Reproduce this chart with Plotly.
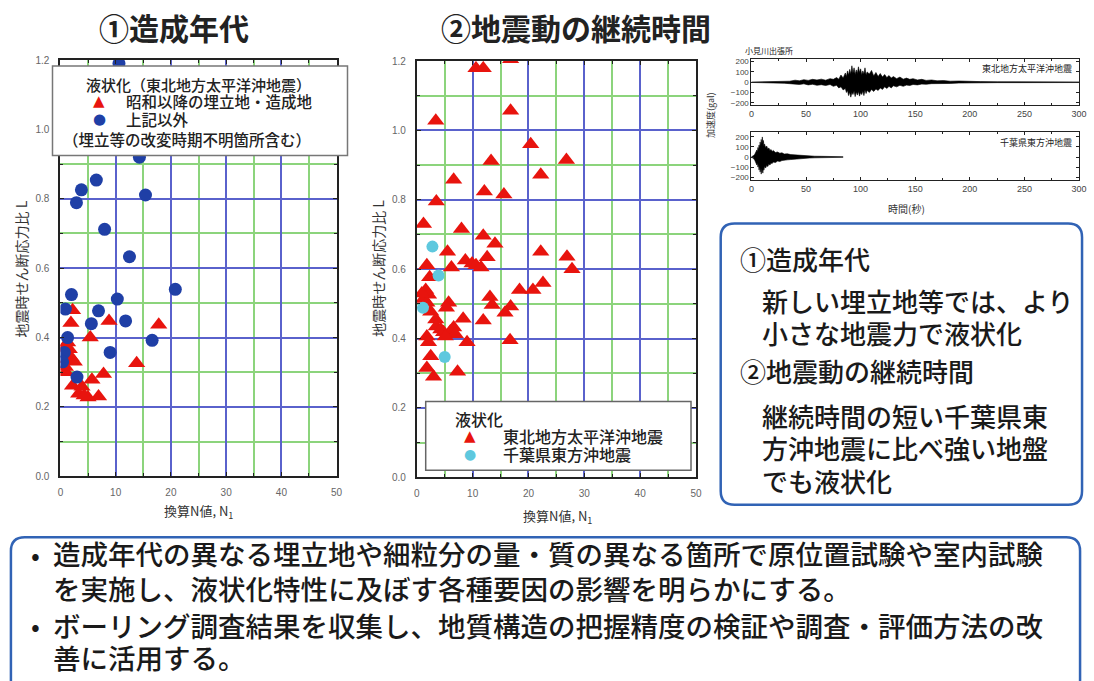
import plotly.graph_objects as go

W, H = 1094, 681
JP = "Noto Sans CJK JP"
NUM = "Liberation Sans"
SYM = "DejaVu Sans"


def px(x):
    return x / W


def py(y):
    return 1 - y / H


# ---- ① 造成年代 : 換算N値 N1 と 地震時せん断応力比 L ----
showa_n = [2.2, 1.9, 8.8, 17.8, 5.4, 1.3, 1.6, 1.9, 0.9, 1.3, 13.8, 7.8, 5.7, 2.2,
           3.9, 3.3, 5.0, 6.9, 4.3, 0.6, 1.0, 2.5]
showa_l = [0.479, 0.442, 0.448, 0.437, 0.400, 0.386, 0.366, 0.343, 0.315, 0.338, 0.326,
           0.295, 0.278, 0.261, 0.258, 0.238, 0.227, 0.230, 0.233, 0.370, 0.300, 0.330]

other_n = [14.3, 6.5, 3.8, 2.9, 15.4, 8.0, 12.5, 2.0, 0.9, 10.3, 6.9, 5.6, 11.8, 20.8,
           1.3, 0.7, 9.0, 16.6, 3.0, 0.4, 10.6]
other_l = [0.920, 0.854, 0.826, 0.789, 0.811, 0.712, 0.633, 0.524, 0.482, 0.511, 0.477,
           0.440, 0.448, 0.539, 0.400, 0.357, 0.357, 0.392, 0.286, 0.330, 1.190]

# ---- ② 地震動の継続時間 : 地震別 ----
tohoku_n = [10.6, 11.9, 16.8, 16.8, 3.4, 20.4, 13.3, 22.2, 6.6, 12.1, 15.6, 3.5, 26.8,
            1.2, 8.0, 11.9, 14.0, 5.5, 12.6, 22.2, 26.9, 27.8, 1.8, 6.2, 8.7, 9.9,
            10.6, 11.5, 2.3, 22.6, 18.4, 20.8, 1.6, 2.1, 13.1, 13.5, 1.2, 1.8, 2.5,
            5.7, 5.3, 16.8, 15.8, 8.3, 11.9, 3.4, 3.5, 4.3, 4.8, 6.0, 6.6, 6.9, 5.1,
            1.8, 2.1, 9.0, 16.7, 2.5, 1.8, 3.0, 7.3, 0.9]
tohoku_l = [1.179, 1.179, 1.205, 1.057, 1.028, 0.960, 0.912, 0.872, 0.858, 0.824, 0.815,
            0.795, 0.915, 0.730, 0.716, 0.696, 0.673, 0.650, 0.634, 0.650, 0.636, 0.600,
            0.611, 0.605, 0.625, 0.616, 0.611, 0.605, 0.577, 0.560, 0.540, 0.540, 0.540,
            0.526, 0.520, 0.497, 0.514, 0.503, 0.477, 0.503, 0.489, 0.492, 0.474, 0.457,
            0.452, 0.455, 0.435, 0.426, 0.418, 0.420, 0.432, 0.412, 0.406, 0.406, 0.389,
            0.389, 0.395, 0.349, 0.315, 0.290, 0.304, 0.530]

chiba_n = [2.8, 3.9, 1.1, 5.0]
chiba_l = [0.665, 0.582, 0.489, 0.347]

# ---- 加速度波形の包絡 (gal) : 小見川出張所 ----
t_tohoku = [0, 8, 16, 24, 30, 35, 40, 44, 48, 52, 56, 60, 64, 68, 72, 75, 78, 80, 82, 84,
            86, 87, 88, 89, 90, 91, 92, 93, 94, 95, 96, 97, 98, 99, 100, 101, 102, 103,
            104, 105, 106, 108, 110, 112, 114, 116, 118, 120, 122, 124, 126, 128, 130,
            133, 136, 139, 142, 145, 148, 152, 156, 160, 165, 170, 176, 182, 190, 198,
            210, 225, 245, 270, 300]
up_tohoku = [2, 3, 5, 8, 12, 10, 20, 14, 25, 18, 28, 22, 30, 20, 35, 28, 45, 30, 70, 40,
             90, 55, 110, 70, 125, 80, 160, 90, 140, 75, 120, 85, 150, 95, 130, 70, 110,
             80, 140, 70, 100, 80, 115, 60, 95, 55, 85, 50, 75, 45, 65, 40, 55, 35, 50,
             30, 40, 28, 35, 22, 28, 18, 22, 14, 16, 10, 12, 8, 6, 5, 4, 3, 3]
lo_tohoku = [-2, -3, -5, -8, -10, -14, -18, -22, -16, -26, -20, -30, -24, -32, -22, -40,
             -30, -55, -45, -75, -60, -100, -80, -130, -95, -145, -100, -120, -85, -140,
             -95, -125, -90, -135, -100, -120, -85, -130, -75, -110, -80, -100, -70, -90,
             -65, -80, -55, -70, -45, -60, -40, -55, -35, -45, -30, -40, -28, -32, -22,
             -26, -18, -20, -14, -15, -10, -12, -8, -6, -5, -4, -4, -3, -3]

t_chiba = [0, 1.5, 3, 4, 5, 5.5, 6, 6.5, 7, 7.5, 8, 8.5, 9, 9.5, 10, 10.5, 11, 11.5, 12,
           13, 14, 15, 16, 17, 18, 19, 20, 22, 24, 26, 28, 30, 33, 36, 40, 44, 48, 53,
           58, 64, 70, 77, 84]
up_chiba = [4, 10, 25, 45, 70, 50, 95, 70, 120, 90, 150, 110, 175, 130, 200, 140, 165,
            110, 130, 95, 110, 80, 90, 65, 75, 55, 65, 45, 50, 38, 42, 30, 32, 24, 20,
            16, 13, 10, 8, 7, 5, 4, 3]
lo_chiba = [-4, -10, -30, -50, -80, -60, -100, -75, -130, -95, -150, -110, -170, -120,
            -140, -160, -115, -130, -95, -110, -85, -95, -70, -80, -60, -65, -50, -55,
            -40, -45, -35, -35, -28, -25, -20, -16, -13, -10, -8, -7, -5, -4, -3]

RED = "#e8140e"
BLUE = "#1f3fa6"
CYAN = "#5ec8de"
GRID_MAJOR = "#5a62cc"
GRID_MINOR = "#8cd47c"

fig = go.Figure()

fig.add_trace(go.Scatter(x=showa_n, y=showa_l, mode="markers", name="昭和以降の埋立地・造成地",
                         marker=dict(symbol="triangle-up", size=15, color=RED),
                         xaxis="x", yaxis="y", showlegend=False))
fig.add_trace(go.Scatter(x=other_n, y=other_l, mode="markers", name="上記以外",
                         marker=dict(symbol="circle", size=13, color=BLUE),
                         xaxis="x", yaxis="y", showlegend=False))
fig.add_trace(go.Scatter(x=tohoku_n, y=tohoku_l, mode="markers", name="東北地方太平洋沖地震",
                         marker=dict(symbol="triangle-up", size=15, color=RED),
                         xaxis="x2", yaxis="y2", showlegend=False))
fig.add_trace(go.Scatter(x=chiba_n, y=chiba_l, mode="markers", name="千葉県東方沖地震",
                         marker=dict(symbol="circle", size=12, color=CYAN),
                         xaxis="x2", yaxis="y2", showlegend=False))

# 波形（上下の包絡線の間を塗りつぶし）
for t, up, lo, xa, ya in [(t_tohoku, up_tohoku, lo_tohoku, "x3", "y3"),
                          (t_chiba, up_chiba, lo_chiba, "x4", "y4")]:
    fig.add_trace(go.Scatter(x=t, y=up, mode="lines", line=dict(color="black", width=0.6),
                             xaxis=xa, yaxis=ya, showlegend=False, hoverinfo="skip"))
    fig.add_trace(go.Scatter(x=t, y=lo, mode="lines", line=dict(color="black", width=0.6),
                             fill="tonexty", fillcolor="black",
                             xaxis=xa, yaxis=ya, showlegend=False, hoverinfo="skip"))


def scatter_x(domain, anchor):
    return dict(domain=domain, anchor=anchor, range=[0, 50], dtick=10, tick0=0,
                showgrid=True, gridcolor=GRID_MAJOR, gridwidth=1.8,
                minor=dict(dtick=5, showgrid=True, gridcolor=GRID_MINOR, gridwidth=1.8,
                           ticks="inside", ticklen=3, tickcolor="#222"),
                ticks="inside", ticklen=4, tickcolor="#222", mirror="ticks",
                showline=True, linecolor="#222", linewidth=2, zeroline=False,
                ticklabelstandoff=6,
                tickfont=dict(family=NUM, size=10, color="#666"), fixedrange=True)


def scatter_y(domain, anchor):
    return dict(domain=domain, anchor=anchor, range=[0, 1.2], dtick=0.2, tick0=0,
                tickformat=".1f",
                showgrid=True, gridcolor=GRID_MAJOR, gridwidth=1.8,
                minor=dict(dtick=0.1, showgrid=True, gridcolor=GRID_MINOR, gridwidth=1.8,
                           ticks="inside", ticklen=3, tickcolor="#222"),
                ticks="inside", ticklen=4, tickcolor="#222", mirror="ticks",
                showline=True, linecolor="#222", linewidth=2, zeroline=False,
                ticklabelstandoff=7,
                tickfont=dict(family=NUM, size=10, color="#666"), fixedrange=True)


def wave_x(domain, anchor):
    return dict(domain=domain, anchor=anchor, range=[0, 300], dtick=50, tick0=0,
                showgrid=False, zeroline=False, ticks="inside", ticklen=3,
                tickcolor="#222", mirror="ticks", showline=True, linecolor="#222",
                linewidth=1, minor=dict(dtick=25, ticks="inside", ticklen=2),
                tickfont=dict(family=NUM, size=9, color="#444"), fixedrange=True)


def wave_y(domain, anchor, rng):
    return dict(domain=domain, anchor=anchor, range=rng, tickvals=[-200, -100, 0, 100, 200],
                showgrid=False, zeroline=False, ticks="inside", ticklen=3,
                tickcolor="#222", mirror="ticks", showline=True, linecolor="#222",
                linewidth=1, tickfont=dict(family=NUM, size=8, color="#444"),
                fixedrange=True)


def rounded(x0, y0, x1, y1, r):
    """Rounded rectangle path in paper coordinates from pixel corners."""
    rx, ry = r / W, r / H
    X0, X1, Y0, Y1 = px(x0), px(x1), py(y0), py(y1)
    return (f"M {X0 + rx},{Y0} L {X1 - rx},{Y0} Q {X1},{Y0} {X1},{Y0 - ry} "
            f"L {X1},{Y1 + ry} Q {X1},{Y1} {X1 - rx},{Y1} "
            f"L {X0 + rx},{Y1} Q {X0},{Y1} {X0},{Y1 + ry} "
            f"L {X0},{Y0 - ry} Q {X0},{Y0} {X0 + rx},{Y0} Z")


shapes = [
    # 凡例の枠
    dict(type="rect", xref="paper", yref="paper", x0=px(50), x1=px(348), y0=py(153), y1=py(62),
         fillcolor="white", line=dict(color="#777", width=1.5), layer="above"),
    dict(type="rect", xref="paper", yref="paper", x0=px(427), x1=px(695), y0=py(473), y1=py(403),
         fillcolor="white", line=dict(color="#666", width=1.5), layer="above"),
    # 説明文の枠
    dict(type="path", xref="paper", yref="paper", path=rounded(725, 222, 1090, 508, 14),
         fillcolor="white", line=dict(color="#3163b5", width=2.5), layer="below"),
    dict(type="path", xref="paper", yref="paper", path=rounded(8, 541, 1088, 700, 14),
         fillcolor="white", line=dict(color="#3163b5", width=2.5), layer="below"),
]


def note(text, x, y, size, xanchor="left", angle=0, color="#1a1a1a", family=JP,
         bold=False, weight="normal"):
    if bold:
        text = f"<b>{text}</b>"
    return dict(text=text, x=px(x), y=py(y), xref="paper", yref="paper", showarrow=False,
                xanchor=xanchor, yanchor="middle", textangle=angle,
                font=dict(family=family, size=size, color=color, weight=weight))


annotations = [
    note("①造成年代", 95, 22, 30, bold=True, color="#222"),
    note("②地震動の継続時間", 440, 22, 30, bold=True, color="#222"),
    note("地震時せん断応力比 L", 18, 268, 14, xanchor="center", angle=-90, color="#333"),
    note("地震時せん断応力比 L", 378, 268, 14, xanchor="center", angle=-90, color="#333"),
    note("換算N値, N<sub>1</sub>", 197, 515, 13, xanchor="center", color="#333"),
    note("換算N値, N<sub>1</sub>", 560, 520, 13, xanchor="center", color="#333"),
    # 凡例（左）
    note("液状化（東北地方太平洋沖地震）", 82, 81, 15, color="#222", weight=500),
    note("▲", 97, 98, 15, xanchor="center", color=RED, family=SYM),
    note("昭和以降の埋立地・造成地", 122, 98, 15.5, color="#222", weight=500),
    note("●", 97, 116, 15, xanchor="center", color=BLUE, family=SYM),
    note("上記以外", 122, 116, 15.5, color="#222", weight=500),
    note("（埋立等の改変時期不明箇所含む）", 186, 136, 15.5, xanchor="center", color="#222",
         weight=500),
    # 凡例（右）
    note("液状化", 455, 421, 16, color="#222", weight=500),
    note("▲", 472, 438, 15, xanchor="center", color=RED, family=SYM),
    note("東北地方太平洋沖地震", 503, 438, 16, color="#222", weight=500),
    note("●", 472, 456, 14, xanchor="center", color=CYAN, family=SYM),
    note("千葉県東方沖地震", 503, 456, 16, color="#222", weight=500),
    # 波形図
    note("小見川出張所", 748, 46, 8, color="#222"),
    note("東北地方太平洋沖地震", 1082, 65, 9, xanchor="right", color="#222"),
    note("千葉県東方沖地震", 1082, 140, 9, xanchor="right", color="#222"),
    note("加速度(gal)", 714, 112, 9, xanchor="center", angle=-90, color="#333"),
    note("時間(秒)", 913, 207, 10, xanchor="center", color="#333"),
    # 右の説明文
    note("①造成年代", 742, 258, 26, weight=500),
    note("新しい埋立地等では、より", 765, 300, 26, weight=500),
    note("小さな地震力で液状化", 765, 333, 26, weight=500),
    note("②地震動の継続時間", 742, 372, 26, weight=500),
    note("継続時間の短い千葉県東", 765, 417, 26, weight=500),
    note("方沖地震に比べ強い地盤", 765, 450, 26, weight=500),
    note("でも液状化", 765, 483, 26, weight=500),
    # 下の説明文
    note("•", 26, 557, 26),
    note("造成年代の異なる埋立地や細粒分の量・質の異なる箇所で原位置試験や室内試験", 48, 557,
         27.5, weight=500),
    note("を実施し、液状化特性に及ぼす各種要因の影響を明らかにする。", 48, 593, 27.5,
         weight=500),
    note("•", 26, 630, 26),
    note("ボーリング調査結果を収集し、地質構造の把握精度の検証や調査・評価方法の改", 48, 630,
         27.5, weight=500),
    note("善に活用する。", 48, 663, 27.5, weight=500),
]

fig.update_layout(
    width=W, height=H, autosize=False,
    margin=dict(l=0, r=0, t=0, b=0),
    paper_bgcolor="white", plot_bgcolor="white",
    showlegend=False,
    xaxis=scatter_x([px(58), px(337)], "y"),
    yaxis=scatter_y([py(479), py(56)], "x"),
    xaxis2=scatter_x([px(418), px(700)], "y2"),
    yaxis2=scatter_y([py(480), py(57)], "x2"),
    xaxis3=wave_x([px(756), px(1087)], "y3"),
    yaxis3=wave_y([py(102), py(55)], "x3", [-225, 225]),
    xaxis4=wave_x([px(756), px(1087)], "y4"),
    yaxis4=wave_y([py(178), py(129)], "x4", [-230, 250]),
    shapes=shapes,
    annotations=annotations,
    font=dict(family=JP),
)

fig.write_html("out.html")
